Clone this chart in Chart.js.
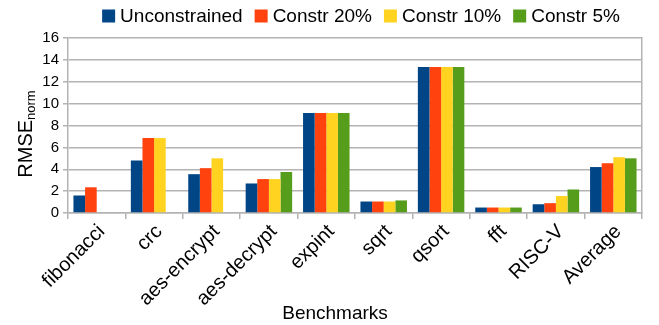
<!DOCTYPE html>
<html>
<head>
<meta charset="utf-8">
<script src="https://cdn.jsdelivr.net/npm/chart.js@4"></script>
<style>
  html, body { margin: 0; padding: 0; background: #fff; }
  #wrap { width: 659px; height: 325px; position: relative; }
</style>
</head>
<body>
<div id="wrap"><canvas id="chart"></canvas></div>
<script>
// Benchmark names along the x axis
const categories = ['fibonacci', 'crc', 'aes-encrypt', 'aes-decrypt', 'expint', 'sqrt', 'qsort', 'fft', 'RISC-V', 'Average'];

// Normalised RMSE per benchmark for each constraint level (null = no bar)
const unconstrained = [1.6, 4.8, 3.55, 2.7, 9.15, 1.05, 13.35, 0.5, 0.8, 4.2];
const constr20 = [2.35, 6.85, 4.1, 3.1, 9.15, 1.05, 13.35, 0.5, 0.9, 4.55];
const constr10 = [null, 6.85, 5.0, 3.1, 9.15, 1.05, 13.35, 0.5, 1.55, 5.1];
const constr5 = [null, null, null, 3.75, 9.15, 1.15, 13.35, 0.5, 2.15, 5.0];

const seriesNames = ['Unconstrained', 'Constr 20%', 'Constr 10%', 'Constr 5%'];
const seriesColors = ['#004586', '#ff420e', '#ffd320', '#579d1c'];

// y axis tick range
const yMin = 0, yMax = 16, yStep = 2;

const xTitle = 'Benchmarks';
const yTitleMain = 'RMSE', yTitleSub = 'norm';

const FONT = "'Liberation Sans', Arial, sans-serif";
const GRID = '#b3b3b3';

// Legend row, axis titles (the y title carries a subscript)
const decorPlugin = {
  id: 'decor',
  afterDraw(chart) {
    const ctx = chart.ctx;
    ctx.save();
    ctx.fillStyle = '#000';

    // legend: square swatch + label, row centred at x = 361
    ctx.font = '19px ' + FONT;
    ctx.textBaseline = 'middle';
    ctx.textAlign = 'left';
    const box = 13, gapText = 5, gapItem = 12;
    const widths = chart.data.datasets.map(ds => ctx.measureText(ds.label).width);
    let total = 0;
    widths.forEach((w, i) => { total += box + gapText + w + (i < widths.length - 1 ? gapItem : 0); });
    let x = 361 - total / 2;
    const cy = 16;
    chart.data.datasets.forEach((ds, i) => {
      ctx.fillStyle = ds.backgroundColor;
      ctx.fillRect(x, cy - box / 2, box, box);
      ctx.fillStyle = '#000';
      ctx.fillText(ds.label, x + box + gapText, cy + 1);
      x += box + gapText + widths[i] + gapItem;
    });

    // x axis title
    ctx.textAlign = 'center';
    ctx.textBaseline = 'alphabetic';
    ctx.font = '19px ' + FONT;
    ctx.fillText(xTitle, 335, 319);

    // y axis title, rotated
    ctx.font = '20px ' + FONT;
    const wMain = ctx.measureText(yTitleMain).width;
    ctx.font = '13px ' + FONT;
    const wSub = ctx.measureText(yTitleSub).width;
    const len = wMain + wSub;
    const mid = 134;
    ctx.translate(32, mid + len / 2);
    ctx.rotate(-Math.PI / 2);
    ctx.textAlign = 'left';
    ctx.font = '20px ' + FONT;
    ctx.fillText(yTitleMain, 0, 0);
    ctx.font = '13px ' + FONT;
    ctx.fillText(yTitleSub, wMain, 3);
    ctx.restore();
  }
};

new Chart(document.getElementById('chart'), {
  type: 'bar',
  data: {
    labels: categories,
    datasets: [unconstrained, constr20, constr10, constr5].map((d, i) => ({
      label: seriesNames[i],
      data: d,
      backgroundColor: seriesColors[i],
      borderWidth: 0,
      categoryPercentage: 0.81,
      barPercentage: 1.0
    }))
  },
  options: {
    responsive: true,
    maintainAspectRatio: false,
    animation: false,
    devicePixelRatio: 1,
    layout: { padding: { top: 38, right: 17, left: 0, bottom: 0 } },
    plugins: {
      legend: { display: false },
      tooltip: { enabled: false }
    },
    scales: {
      x: {
        grid: {
          display: true,
          drawOnChartArea: false,
          drawTicks: true,
          tickLength: 6,
          color: GRID,
          lineWidth: 1.5
        },
        border: { display: true, color: GRID, width: 1.5 },
        ticks: {
          font: { family: FONT, size: 20 },
          color: '#000',
          minRotation: 45,
          maxRotation: 45,
          autoSkip: false,
          labelOffset: 5,
          padding: 1
        },
        afterFit(scale) { scale.height = 112; }
      },
      y: {
        min: yMin,
        max: yMax,
        ticks: {
          stepSize: yStep,
          font: { family: FONT, size: 15 },
          color: '#000',
          padding: 4
        },
        grid: {
          color: GRID,
          lineWidth: 1.5,
          tickLength: 5
        },
        border: { display: true, color: GRID, width: 1.5 },
        afterFit(scale) { scale.width = 68; }
      },
      yRight: {
        position: 'right',
        min: yMin,
        max: yMax,
        ticks: { display: false },
        grid: { display: false, drawOnChartArea: false, drawTicks: false },
        border: { display: true, color: GRID, width: 1.5 },
        afterFit(scale) { scale.width = 0; }
      }
    }
  },
  plugins: [decorPlugin]
});
</script>
</body>
</html>
